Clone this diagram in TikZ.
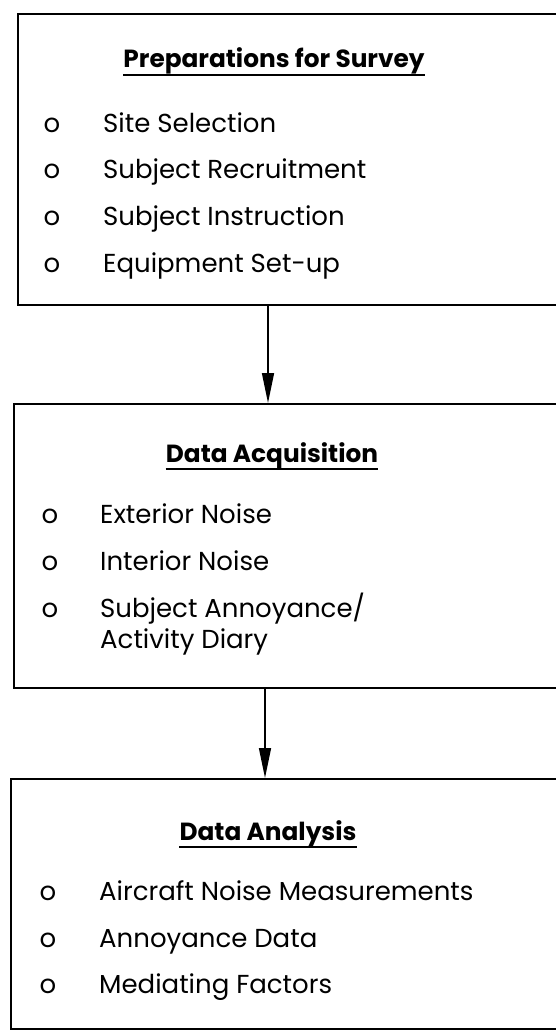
\documentclass[tikz,border=0pt]{standalone}
\usepackage{fontspec}
\setmainfont{Poppins}
\usetikzlibrary{positioning,arrows.meta}

\tikzset{
  stage/.style={draw, line width=2.4pt, rectangle, anchor=north west,
    minimum width=620pt, inner sep=0pt},
  head/.style={font=\fontsize{24.8}{28}\selectfont\bfseries, inner sep=0pt, anchor=base},
  item/.style={font=\fontsize{26}{30}\selectfont, inner sep=0pt, anchor=base west},
  bul/.style={font=\fontsize{26}{30}\selectfont, inner sep=0pt, anchor=base},
  uline/.style={line width=2pt},
  flow/.style={line width=1.5pt, -{Triangle[length=30pt,width=12pt]}}
}

\begin{document}
\begin{tikzpicture}[x=1pt,y=-1pt]
\useasboundingbox (0,0) rectangle (555,1030);

% the three stages
\node[stage, minimum height=291pt] (prep) at (17,13) {};
\node[stage, minimum height=284pt] (acq) at (13,403) {};
\node[stage, minimum height=250pt] (ana) at (10,778) {};

% preparations
\node[head] (prephd) at (274,68) {Preparations for Survey};
\draw[uline] ([yshift=-7pt]prephd.base west) -- ([yshift=-7pt]prephd.base east);
\node[item] (site) at (103,132) {Site Selection};
\node[item, below=46pt of site.base west, anchor=base west] (recruit) {Subject Recruitment};
\node[item, below=47pt of recruit.base west, anchor=base west] (instr) {Subject Instruction};
\node[item, below=47pt of instr.base west, anchor=base west] (equip) {Equipment Set-up};
\node[bul] (b1) at ([xshift=-51pt]site.base west) {o};
\node[bul] (b2) at ([xshift=-51pt]recruit.base west) {o};
\node[bul] (b3) at ([xshift=-51pt]instr.base west) {o};
\node[bul] (b4) at ([xshift=-51pt]equip.base west) {o};

% acquisition
\node[head] (acqhd) at (272,462) {Data Acquisition};
\draw[uline] ([yshift=-7pt]acqhd.base west) -- ([yshift=-7pt]acqhd.base east);
\node[item] (ext) at (100,523) {Exterior Noise};
\node[item, below=47pt of ext.base west, anchor=base west] (int) {Interior Noise};
\node[item, below=47pt of int.base west, anchor=base west] (annoy) {Subject Annoyance/};
\node[item, below=31pt of annoy.base west, anchor=base west] (diary) {Activity Diary};
\node[bul] (b5) at ([xshift=-50pt]ext.base west) {o};
\node[bul] (b6) at ([xshift=-50pt]int.base west) {o};
\node[bul] (b7) at ([xshift=-50pt]annoy.base west) {o};

% analysis
\node[head] (anahd) at (268,840) {Data Analysis};
\draw[uline] ([yshift=-7pt]anahd.base west) -- ([yshift=-7pt]anahd.base east);
\node[item] (air) at (99,900) {Aircraft Noise Measurements};
\node[item, below=47pt of air.base west, anchor=base west] (annd) {Annoyance Data};
\node[item, below=46pt of annd.base west, anchor=base west] (med) {Mediating Factors};
\node[bul] (b8) at ([xshift=-51pt]air.base west) {o};
\node[bul] (b9) at ([xshift=-51pt]annd.base west) {o};
\node[bul] (b10) at ([xshift=-51pt]med.base west) {o};

% arrows
\coordinate (a1) at (268,0);
\coordinate (a2) at (265,0);
\draw[flow] (a1 |- prep.south) -- (a1 |- acq.north);
\draw[flow] (a2 |- acq.south) -- (a2 |- ana.north);
\end{tikzpicture}
\end{document}
